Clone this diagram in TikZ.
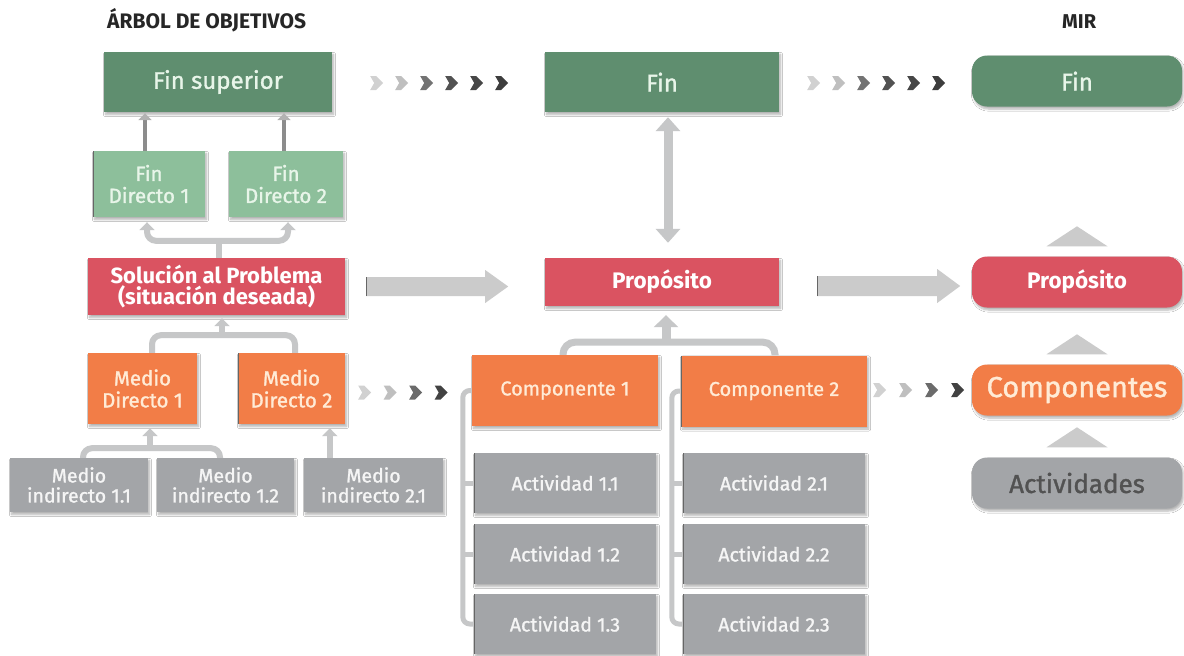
\documentclass[tikz,border=0pt]{standalone}
\usepackage{fontspec}
\setmainfont{Fira Sans}[UprightFeatures={FakeBold=1.3}]
\usetikzlibrary{arrows.meta,calc,shadows.blur}

\definecolor{verdeosc}{HTML}{5F8E6F}
\definecolor{verdecla}{HTML}{8DBF9B}
\definecolor{rojo}{HTML}{DA5361}
\definecolor{naranja}{HTML}{F27D47}
\definecolor{grisbox}{HTML}{A3A5A8}
\definecolor{conector}{HTML}{C6C7C8}
\definecolor{flecha}{HTML}{CBCBCB}
\definecolor{textoverde}{HTML}{E8F5E9}
\definecolor{textonar}{HTML}{FFEBD6}
\definecolor{textogris}{HTML}{F5F5F5}

\tikzset{
  chev/.pic={\fill[pic actions] (0,-7) -- (6,-7) -- (13,0) -- (6,7) -- (0,7) -- (4,0) -- cycle;},
}

\begin{document}
\begin{tikzpicture}[x=1pt,y=-1pt,
  caja/.style={rectangle, inner sep=0pt, align=center,
    blur shadow={shadow xshift=1.5pt, shadow yshift=-2.5pt, shadow opacity=30, shadow blur steps=6}},
  borde/.style={path picture={\draw[black!60,line width=1.5pt]
    (path picture bounding box.north west) -- (path picture bounding box.south west);}},
  fsup/.style={caja, fill=verdeosc, text=textoverde, font=\fontsize{24}{26}\selectfont},
  fdir/.style={caja, fill=verdecla, text=textoverde, font=\fontsize{20.5}{22}\selectfont,
    minimum height=66pt},
  sol/.style={caja, fill=rojo, text=white, font=\bfseries\fontsize{22}{21.5}\selectfont},
  medio/.style={caja, fill=naranja, text=textonar, font=\fontsize{20.5}{22}\selectfont,
    minimum height=71pt},
  indir/.style={caja, fill=grisbox, text=textogris, font=\fontsize{19.5}{20}\selectfont,
    minimum width=138pt, minimum height=54pt},
  comp/.style={caja, fill=naranja, text=textonar, font=\fontsize{20}{22}\selectfont,
    minimum width=186pt, minimum height=71pt},
  acti/.style={caja, borde, fill=grisbox, text=textogris, font=\fontsize{19.5}{20}\selectfont,
    minimum width=182pt, minimum height=60pt},
  mir/.style={caja, rounded corners=15pt, minimum width=210pt, minimum height=51pt},
  rama/.style={draw=conector, line width=6pt, rounded corners=9pt},
  punta/.style={-{Triangle[width=15pt,length=8pt]}},
  fina/.style={draw=black!45, line width=3.5pt, -{Triangle[width=13pt,length=7pt,color=black!30]}},
]

% canvas
\fill[white] (0,0) rectangle (1184,656);
\useasboundingbox (0,0) rectangle (1184,656);

% headings
\node[anchor=base west, inner sep=0pt, text=black!85, font=\bfseries\fontsize{21}{24}\selectfont]
  (titulo) at (107,28) {ÁRBOL DE OBJETIVOS};
\node[anchor=base west, inner sep=0pt, text=black!85, font=\bfseries\fontsize{20}{24}\selectfont]
  (mirtit) at (1062,28) {MIR};

% ---------- objective tree ----------
\node[fsup, minimum width=228pt, minimum height=60pt] (finsup) at (218,82) {Fin superior};
\node[fdir, borde, minimum width=112pt] (fd1) at (149,184) {Fin\\Directo 1};
\node[fdir, minimum width=114pt] (fd2) at (286,184) {Fin\\Directo 2};
\node[sol, minimum width=257pt, minimum height=57pt] (sol) at (216.5,286.5)
  {Solución al Problema\\(situación deseada)};
\node[medio, minimum width=109pt] (md1) at (142.5,388.5) {Medio\\Directo 1};
\node[medio, borde, minimum width=107pt] (md2) at (291.5,388.5) {Medio\\Directo 2};
\node[indir] (mi11) at (79,485) {Medio\\indirecto 1.1};
\node[indir, minimum width=137pt] (mi12) at (225.5,485) {Medio\\indirecto 1.2};
\node[indir, minimum width=139pt] (mi21) at (373.5,485) {Medio\\indirecto 2.1};

% ---------- middle column ----------
\node[fsup, minimum width=234pt, minimum height=60pt] (fin) at (662,82) {Fin};
\node[sol, minimum width=234pt, minimum height=48pt, font=\bfseries\fontsize{22.5}{24}\selectfont]
  (prop) at (662,282) {Propósito};
\node[comp] (comp1) at (565,390.5) {Componente 1};
\node[comp, borde] (comp2) at (774,391) {Componente 2};
\node[acti] (act11) at (565,483) {Actividad 1.1};
\node[acti] (act12) at (565,554) {Actividad 1.2};
\node[acti] (act13) at (565,624) {Actividad 1.3};
\node[acti] (act21) at (774,483) {Actividad 2.1};
\node[acti] (act22) at (774,554) {Actividad 2.2};
\node[acti] (act23) at (774,624) {Actividad 2.3};

% ---------- MIR column ----------
\node[mir, fill=verdeosc, text=textoverde, font=\fontsize{24}{26}\selectfont] (mfin) at (1077,81) {Fin};
\node[mir, fill=rojo, text=white, font=\bfseries\fontsize{22.5}{24}\selectfont] (mprop) at (1077,282) {Propósito};
\node[mir, fill=naranja, text=textonar, font=\fontsize{29}{31}\selectfont] (mcomp) at (1077,390) {Componentes};
\node[mir, fill=grisbox, text=black!68, font=\fontsize{26}{28}\selectfont] (mact) at (1077,483) {Actividades};

% ---------- connectors of the objective tree ----------
\draw[fina, shorten >=1pt] ($(fd1.north)+(-4,0)$) -- ($(fd1.north |- finsup.south)+(-4,0)$);
\draw[fina, shorten >=1pt] ($(fd2.north)+(-2,0)$) -- ($(fd2.north |- finsup.south)+(-2,0)$);

\coordinate (j1) at ($(sol.north)+(2.5,-17)$);
\draw[rama] (sol.north -| j1) -- (j1);
\draw[rama, punta, shorten >=5pt] (j1) -| ($(fd1.south)+(-2,0)$);
\draw[rama, punta, shorten >=5pt] (j1) -| ($(fd2.south)+(2,0)$);

\coordinate (j2) at ($(sol.south)+(5.5,20)$);
\draw[rama] ($(md1.north)+(9.5,0)$) |- (j2) -| ($(md2.north)+(3.5,0)$);
\draw[rama, punta, shorten >=3pt] (j2) -- (j2 |- sol.south);

\coordinate (j3) at ($(md1.south)+(7.5,24)$);
\draw[rama] ($(mi11.north)+(4,0)$) |- (j3) -| ($(mi12.north)+(-5.5,0)$);
\draw[rama, punta, shorten >=4pt] (j3) -- (j3 |- md1.south);

\coordinate (k1) at ($(mi21.north west)+(26,0)$);
\draw[rama, punta, shorten >=4pt] (k1) -- (k1 |- md2.south);

% ---------- connectors of the middle column ----------
\draw[draw=conector, line width=9pt,
  {Triangle[width=24pt,length=14pt]}-{Triangle[width=24pt,length=14pt]},
  shorten <=5pt, shorten >=15pt] ($(fin.south)+(6,0)$) -- ($(prop.north)+(6,0)$);

\coordinate (j4) at ($(prop.south)+(4,36)$);
\draw[rama, line width=7pt, rounded corners=12pt] ($(comp1.north)+(-2,0)$) |- (j4) -| ($(comp2.north)+(1,0)$);
\draw[draw=conector, line width=9pt, -{Triangle[width=24pt,length=12pt]}, shorten >=9pt]
  (j4) -- (j4 |- prop.south);

\draw[rama, line width=5pt, rounded corners=7pt] (comp1.west) -- ++(-9,0) |- (act13.west);
\draw[rama, line width=5pt] (act11.west) -- ++(-9,0);
\draw[rama, line width=5pt] (act12.west) -- ++(-9,0);
\draw[rama, line width=5pt, rounded corners=7pt] (comp2.west) -- ++(-9,0) |- (act23.west);
\draw[rama, line width=5pt] (act21.west) -- ++(-9,0);
\draw[rama, line width=5pt] (act22.west) -- ++(-9,0);

% ---------- broad arrows ----------
\fill[flecha] ($(sol.east)+(21,-9.5)$) coordinate (a1) -- ++(119,0) -- ++(0,-7) -- ++(23,16.5)
  -- ++(-23,16.5) -- ++(0,-7) -- ++(-119,0) -- cycle;
\draw[black!60, line width=1.2pt] (a1) -- ++(0,19);
\fill[flecha] ($(prop.east)+(38,-6)$) coordinate (a2) -- ++(120,0) -- ++(0,-7) -- ++(23,17)
  -- ++(-23,17) -- ++(0,-7) -- ++(-120,0) -- cycle;
\draw[black!60, line width=1.2pt] (a2) -- ++(0,20);

% ---------- chevron trails ----------
\foreach \i/\c in {0/18,1/25,2/55,3/68,4/72,5/76}{
  \pic[fill=black!\c] at ($(finsup.east)+({38+25*\i},1)$) {chev};
  \pic[fill=black!\c] at ($(fin.east)+({28+25*\i},1)$) {chev};
}
\foreach \i/\c in {0/18,1/25,2/58,3/74}{
  \pic[fill=black!\c] at ($(md2.east)+({13+25.5*\i},4)$) {chev};
  \pic[fill=black!\c] at ($(comp2.east)+({6+26*\i},-1)$) {chev};
}

% ---------- MIR triangles ----------
\foreach \n in {mprop,mcomp,mact}{
  \fill[flecha] ($(\n.north)+(-30.5,-10)$) -- ++(61,0) -- ++(-30.5,-20) -- cycle;
}

\end{tikzpicture}
\end{document}
